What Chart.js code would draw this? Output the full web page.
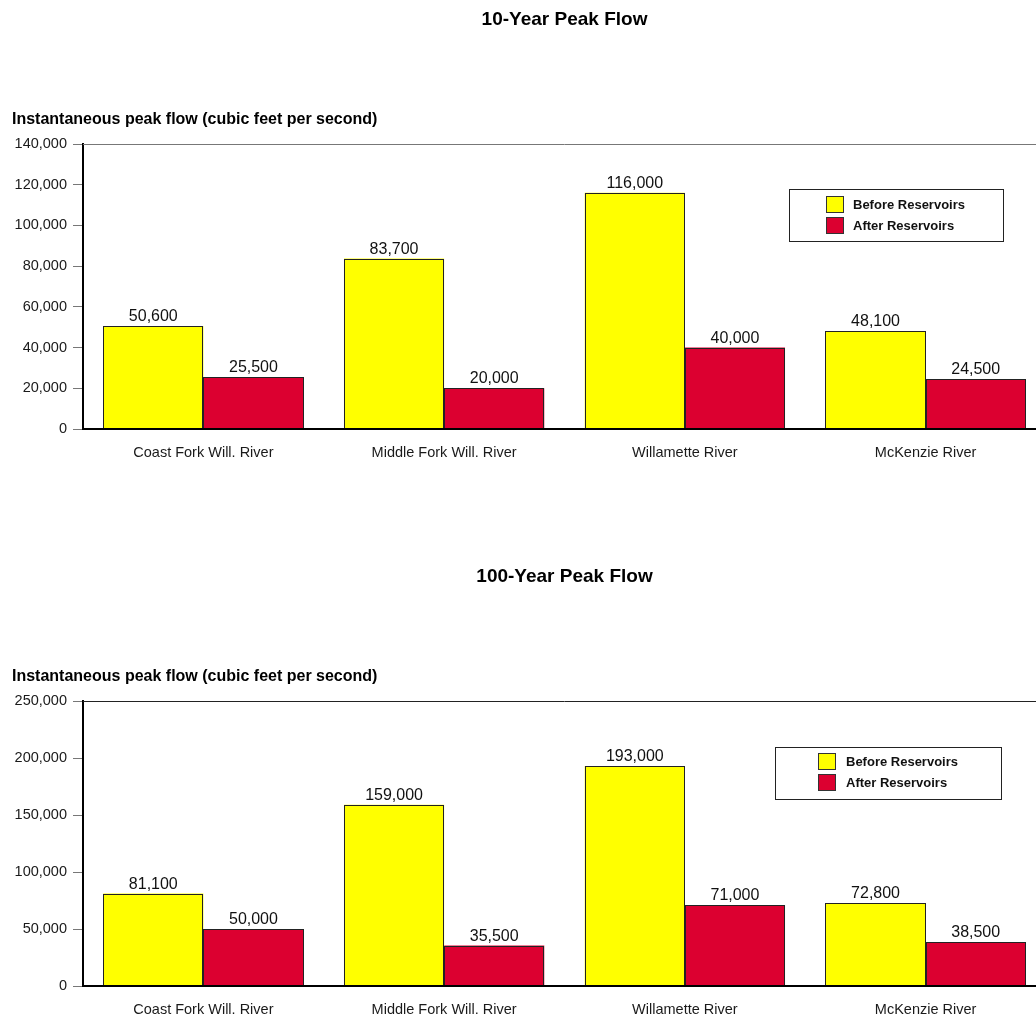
<!DOCTYPE html>
<html>
<head>
<meta charset="utf-8">
<title>Peak Flow Before and After Reservoirs</title>
<script src="https://cdn.jsdelivr.net/npm/chart.js@4.4.1/dist/chart.umd.min.js"></script>
<style>
  html, body { margin: 0; padding: 0; background: #fff; overflow: hidden; }
  #wrap { position: relative; width: 1036px; height: 1015px; overflow: hidden; background: #fff; }
  canvas { position: absolute; left: 0; display: block; }
  #c10 { top: 0; }
  #c100 { top: 557px; }
</style>
</head>
<body>
<div id="wrap">
  <canvas id="c10" width="1046" height="557"></canvas>
  <canvas id="c100" width="1046" height="557"></canvas>
</div>
<script>
// Rivers and series
const categories = ['Coast Fork Will. River', 'Middle Fork Will. River', 'Willamette River', 'McKenzie River'];
const seriesNames = ['Before Reservoirs', 'After Reservoirs'];

// 10-year peak flow (cfs)
const before10 = [50600, 83700, 116000, 48100];
const after10 = [25500, 20000, 40000, 24500];

// 100-year peak flow (cfs)
const before100 = [81100, 159000, 193000, 72800];
const after100 = [50000, 35500, 71000, 38500];

// Axis ranges
const yMax10 = 140000, yStep10 = 20000;
const yMax100 = 250000, yStep100 = 50000;

const titles = ['10-Year Peak Flow', '100-Year Peak Flow'];
const yTitle = 'Instantaneous peak flow (cubic feet per second)';

const FONT = '"Liberation Sans", Arial, Helvetica, sans-serif';
const YELLOW = '#FFFF00';
const RED = '#DC0030';
const fmt = v => Number(v).toLocaleString('en-US');

// Crisp bar outlines, titles, frame top line, value labels and the boxed legend
const panelDecor = {
  id: 'panelDecor',
  afterDatasetsDraw(chart, args, opts) {
    const { ctx, chartArea: a } = chart;
    ctx.save();

    // pixel-aligned outlines around each bar
    ctx.strokeStyle = '#222';
    ctx.lineWidth = 1;
    chart.data.datasets.forEach((ds, i) => {
      chart.getDatasetMeta(i).data.forEach(bar => {
        const { x, y, base, width } = bar.getProps(['x', 'y', 'base', 'width'], true);
        const l = Math.round(x - width / 2), r = Math.round(x + width / 2);
        const t = Math.round(y), b = Math.round(base);
        ctx.strokeRect(l + 0.5, t + 0.5, r - l - 1, b - t);
      });
    });

    // thin line closing the top of the plot
    ctx.strokeStyle = opts.topLineColor;
    ctx.beginPath();
    ctx.moveTo(a.left, Math.round(a.top) + 0.5);
    ctx.lineTo(a.right, Math.round(a.top) + 0.5);
    ctx.stroke();

    // chart title, centred over the plot area
    ctx.fillStyle = '#000';
    ctx.font = 'bold 19px ' + FONT;
    ctx.textAlign = 'center';
    ctx.textBaseline = 'alphabetic';
    ctx.fillText(opts.title, (a.left + a.right) / 2, 25);

    // value axis title
    ctx.font = 'bold 16px ' + FONT;
    ctx.textAlign = 'left';
    ctx.fillText(opts.yTitle, 12, 124);

    // values above bars
    ctx.font = '16px ' + FONT;
    ctx.fillStyle = '#111';
    ctx.textAlign = 'center';
    chart.data.datasets.forEach((ds, i) => {
      chart.getDatasetMeta(i).data.forEach((bar, j) => {
        ctx.fillText(fmt(ds.data[j]), bar.x, bar.y - 5);
      });
    });

    // legend box
    const L = opts.legend;
    ctx.fillStyle = '#fff';
    ctx.fillRect(L.x, L.y, L.w, L.h);
    ctx.strokeStyle = '#222';
    ctx.strokeRect(L.x + 0.5, L.y + 0.5, L.w, L.h);
    ctx.font = 'bold 13px ' + FONT;
    ctx.textAlign = 'left';
    ctx.textBaseline = 'middle';
    chart.data.datasets.forEach((ds, i) => {
      const sy = L.y + L.rowY[i];
      ctx.fillStyle = ds.backgroundColor;
      ctx.fillRect(L.x + L.swatchX, sy, 18, 17);
      ctx.strokeStyle = '#333';
      ctx.strokeRect(L.x + L.swatchX + 0.5, sy + 0.5, 17, 16);
      ctx.fillStyle = '#111';
      ctx.fillText(ds.label, L.x + L.textX, sy + 9);
    });
    ctx.restore();
  }
};

function makeChart(id, before, after, yMax, yStep, title, topLineColor, legend) {
  return new Chart(document.getElementById(id), {
    type: 'bar',
    data: {
      labels: categories,
      datasets: [
        { label: seriesNames[0], data: before, backgroundColor: YELLOW, borderWidth: 0 },
        { label: seriesNames[1], data: after, backgroundColor: RED, borderWidth: 0 }
      ]
    },
    options: {
      responsive: false,
      animation: false,
      devicePixelRatio: 1,
      categoryPercentage: 0.832,
      barPercentage: 1.0,
      layout: { padding: { top: 144, bottom: 88, left: 0, right: 0 } },
      plugins: {
        legend: { display: false },
        title: { display: false },
        tooltip: { enabled: false },
        panelDecor: { title, yTitle, topLineColor, legend }
      },
      scales: {
        x: {
          grid: { display: false },
          border: { display: true, color: '#000', width: 2, z: 1 },
          ticks: { color: '#1a1a1a', font: { family: FONT, size: 14.5 }, padding: 7, maxRotation: 0 },
          afterFit: s => { s.height = 40; }
        },
        y: {
          min: 0,
          max: yMax,
          grid: { drawOnChartArea: false, drawTicks: true, tickLength: 10, tickColor: '#777', tickWidth: 1 },
          border: { display: true, color: '#000', width: 2 },
          ticks: {
            stepSize: yStep,
            padding: 6,
            color: '#1a1a1a',
            font: { family: FONT, size: 14.5 },
            callback: v => fmt(v)
          },
          afterFit: s => { s.width = 83; }
        }
      }
    },
    plugins: [panelDecor]
  });
}

makeChart('c10', before10, after10, yMax10, yStep10, titles[0], '#777',
  { x: 789, y: 189, w: 214, h: 52, swatchX: 37, textX: 64, rowY: [7, 28] });
makeChart('c100', before100, after100, yMax100, yStep100, titles[1], '#222',
  { x: 775, y: 190, w: 226, h: 52, swatchX: 43, textX: 71, rowY: [6, 27] });
</script>
</body>
</html>
